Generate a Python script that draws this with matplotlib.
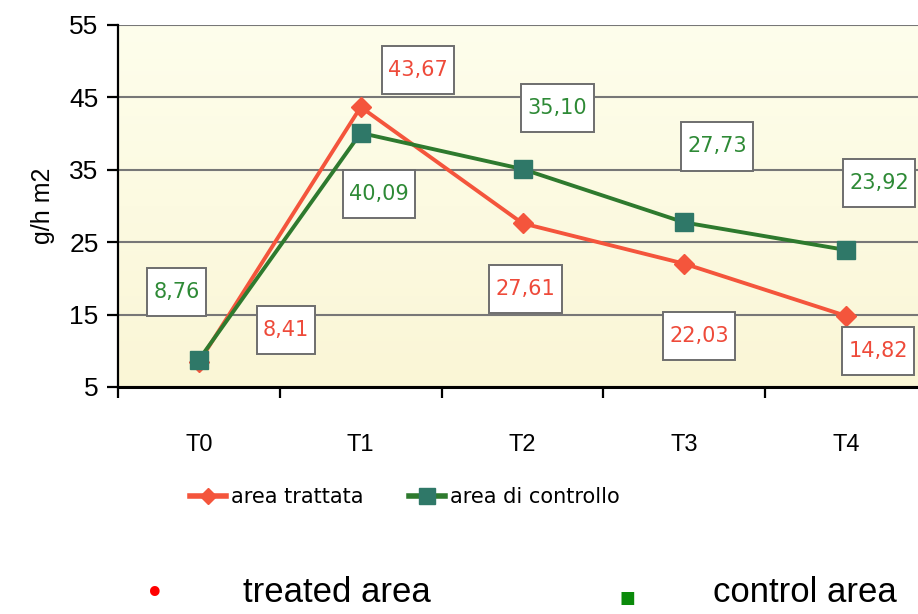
import numpy as np
import matplotlib
matplotlib.use("Agg")
import matplotlib.pyplot as plt
from matplotlib.path import Path
from matplotlib.colors import LinearSegmentedColormap

# ── Data ──────────────────────────────────────────────────────────────────────
times = ["T0", "T1", "T2", "T3", "T4"]
treated = [8.41, 43.67, 27.61, 22.03, 14.82]
control = [8.76, 40.09, 35.10, 27.73, 23.92]
treated_lbl = ["8,41", "43,67", "27,61", "22,03", "14,82"]
control_lbl = ["8,76", "40,09", "35,10", "27,73", "23,92"]

# label box offsets from each point (pixels)
treated_off = [(87, 32), (57, 37), (3, -66), (15, -72), (32, -35)]
control_off = [(-22, 68), (18, -61), (35, 61), (33, 76), (33, 67)]

RED = "#F4553C"
RED_TXT = "#EE4A3A"
GREEN = "#2E7A2E"
GREEN_MK = "#2F7868"
GREEN_TXT = "#2E8A36"


def label_box(x0, y0, width, height, mutation_size):
    px = 0.30 * mutation_size
    py = 0.68 * mutation_size
    x1, y1 = x0 + width + px, y0 + height + py
    x0, y0 = x0 - px, y0 - py
    verts = [(x0, y0), (x1, y0), (x1, y1), (x0, y1), (x0, y0)]
    codes = [Path.MOVETO, Path.LINETO, Path.LINETO, Path.LINETO, Path.CLOSEPOLY]
    return Path(verts, codes)


fig = plt.figure(figsize=(9.18, 6.14), dpi=100)
fig.patch.set_facecolor("white")
ax = fig.add_axes([118 / 918, 227 / 614, 809 / 918, 362 / 614])

# pale yellow gradient background
cmap = LinearSegmentedColormap.from_list("bg", ["#FAF6D6", "#FEFEEC"])
grad = np.linspace(0, 1, 256).reshape(-1, 1)
ax.imshow(grad, cmap=cmap, origin="lower", aspect="auto",
          extent=[0, 1, 0, 1], transform=ax.transAxes, zorder=0)

x = np.arange(len(times))
ax.plot(x, treated, color=RED, lw=2.8, marker="D", ms=10,
        mfc=RED, mec=RED, zorder=4, label="area trattata")
ax.plot(x, control, color=GREEN, lw=2.8, marker="s", ms=13,
        mfc=GREEN_MK, mec=GREEN_MK, zorder=5, label="area di controllo")

for xi, v, s, off in zip(x, treated, treated_lbl, treated_off):
    ax.annotate(s, (xi, v), xytext=off, textcoords="offset pixels",
                ha="center", va="center", fontsize=15, color=RED_TXT,
                bbox=dict(boxstyle=label_box, fc="white", ec="#6E6E6E", lw=1.4),
                zorder=6, annotation_clip=False)
for xi, v, s, off in zip(x, control, control_lbl, control_off):
    ax.annotate(s, (xi, v), xytext=off, textcoords="offset pixels",
                ha="center", va="center", fontsize=15, color=GREEN_TXT,
                bbox=dict(boxstyle=label_box, fc="white", ec="#6E6E6E", lw=1.4),
                zorder=6, annotation_clip=False)

ax.set_xlim(-0.5, 4.5)
ax.set_ylim(5, 55)
ax.set_yticks([5, 15, 25, 35, 45, 55])
ax.set_xticks(x)
ax.set_xticklabels(times, fontsize=17, family="Liberation Sans")
ax.set_xticks(np.arange(-0.5, 4.6, 1), minor=True)
ax.tick_params(axis="x", which="major", length=0, pad=34)
ax.tick_params(axis="x", which="minor", length=8, width=1.6, direction="out")
ax.tick_params(axis="y", length=8, width=1.6, pad=6, labelsize=19)
for t in ax.get_yticklabels():
    t.set_family("Liberation Sans")
ax.grid(True, axis="y", color="#777777", lw=1.5, zorder=1)
ax.set_axisbelow(True)
for side in ("top", "right"):
    ax.spines[side].set_visible(False)
ax.spines["left"].set_linewidth(1.6)
ax.spines["bottom"].set_linewidth(2.2)
ax.set_ylabel("g/h m2", fontsize=18, family="Liberation Sans", labelpad=10)

leg = fig.legend(loc="center", bbox_to_anchor=(405 / 918, 1 - 497 / 614),
                 ncol=2, frameon=False, fontsize=15, handlelength=1.7,
                 handletextpad=0.25, columnspacing=2.2, markerscale=0.85)
for h in leg.legend_handles:
    h.set_linewidth(4)

fig.text(155 / 918, 1 - 595 / 614, "\u2022", color="red", fontsize=24,
         ha="center", va="center")
fig.text(243 / 918, 1 - 592 / 614, "treated area", fontsize=25,
         family="Liberation Sans", ha="left", va="center")
fig.text(627 / 918, 1 - 598 / 614, "\u25A0", color="#0A8A0A", fontsize=12,
         ha="center", va="center", family="DejaVu Sans")
fig.text(713 / 918, 1 - 592 / 614, "control area", fontsize=25,
         family="Liberation Sans", ha="left", va="center")

fig.savefig("out.png", dpi=100, facecolor="white")
